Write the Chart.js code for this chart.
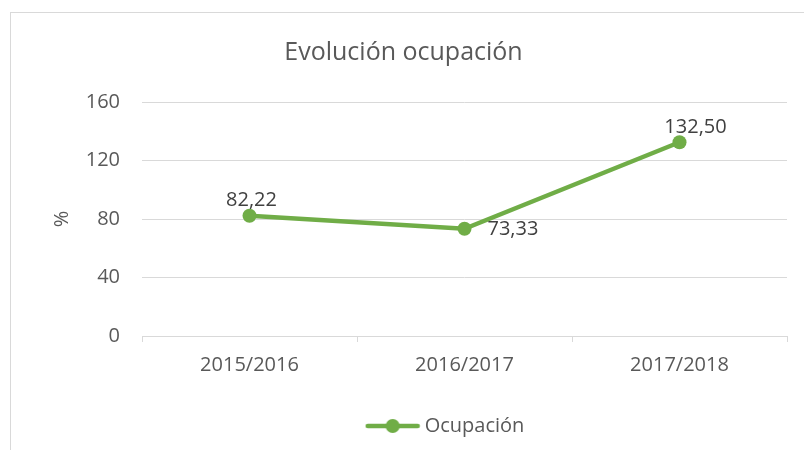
<!DOCTYPE html>
<html>
<head>
<meta charset="utf-8">
<script src="https://cdn.jsdelivr.net/npm/chart.js@4.4.1/dist/chart.umd.min.js"></script>
<style>
  html, body { margin: 0; padding: 0; background: #fff; }
  #wrap { position: relative; width: 804px; height: 450px; overflow: hidden; }
  #frame { position: absolute; left: 10px; top: 12px; width: 820px; height: 460px; border: 1px solid #d9d9d9; box-sizing: border-box; }
  canvas { position: absolute; left: 0; top: 0; }
</style>
</head>
<body>
<div id="wrap">
  <div id="frame"></div>
  <canvas id="occupancyChart" width="804" height="450"></canvas>
</div>
<script>
const years = ['2015/2016', '2016/2017', '2017/2018'];
const occupancy = [82.22, 73.33, 132.50];
const yTicks = [0, 40, 80, 120, 160];
const labelSides = ['top', 'right', 'top'];

const GREEN = '#70AD47';
const TEXT = '#595959';
const FONT = "'Open Sans', sans-serif";

// legend marker: line with a dot, like the office legend
const legendMark = document.createElement('canvas');
legendMark.width = 56;
legendMark.height = 16;
{
    const c = legendMark.getContext('2d');
    c.strokeStyle = GREEN;
    c.lineWidth = 4.5;
    c.lineCap = 'round';
    c.beginPath();
    c.moveTo(3, 8);
    c.lineTo(53, 8);
    c.stroke();
    c.fillStyle = GREEN;
    c.beginPath();
    c.arc(28, 8, 7, 0, Math.PI * 2);
    c.fill();
}

// value labels with comma decimals
const valueLabels = {
    id: 'valueLabels',
    afterLayout(chart) {
        // the office legend sits a bit right of centre
        chart.legend.left += 44;
        chart.legend.right += 44;
    },
    afterDatasetsDraw(chart) {
        const ctx = chart.ctx;
        const meta = chart.getDatasetMeta(0);
        ctx.save();
        ctx.font = "20px " + FONT;
        ctx.fillStyle = '#404040';
        ctx.textBaseline = 'middle';
        meta.data.forEach((pt, i) => {
            const text = occupancy[i].toFixed(2).replace('.', ',');
            if (labelSides[i] === 'right') {
                ctx.textAlign = 'left';
                ctx.fillText(text, pt.x + 23, pt.y + 1);
            } else {
                ctx.textAlign = 'center';
                ctx.fillText(text, pt.x + (i === 2 ? 16 : 2), pt.y - 15);
            }
        });
        ctx.restore();
    }
};

new Chart(document.getElementById('occupancyChart').getContext('2d'), {
    type: 'line',
    data: {
        labels: years,
        datasets: [{
            label: 'Ocupación',
            data: occupancy,
            borderColor: GREEN,
            backgroundColor: GREEN,
            borderWidth: 4.5,
            pointRadius: 7,
            pointHoverRadius: 7,
            pointBackgroundColor: GREEN,
            pointBorderWidth: 0,
            tension: 0,
        }],
    },
    options: {
        responsive: false,
        animation: false,
        events: [],
        layout: { padding: { left: 20, right: 17, top: 38, bottom: 4 } },
        plugins: {
            title: {
                display: true,
                text: 'Evolución ocupación',
                color: TEXT,
                font: { family: FONT, size: 25, weight: 'normal' },
                padding: { top: 0, bottom: 34 },
            },
            legend: {
                position: 'bottom',
                labels: {
                    color: TEXT,
                    font: { family: FONT, size: 20 },
                    usePointStyle: true,
                    pointStyleWidth: 44,
                    generateLabels: (chart) => [{
                        text: 'Ocupación',
                        pointStyle: legendMark,
                        fillStyle: GREEN,
                        strokeStyle: GREEN,
                        lineWidth: 0,
                        datasetIndex: 0,
                        fontColor: TEXT,
                    }],
                },
            },
            tooltip: { enabled: false },
        },
        scales: {
            x: {
                offset: true,
                afterFit: (scale) => { scale.height = 70; },
                grid: {
                    display: true,
                    offset: true,
                    drawOnChartArea: false,
                    drawTicks: true,
                    tickLength: 6,
                    color: '#d9d9d9',
                },
                border: { color: '#d9d9d9', width: 1 },
                ticks: { color: TEXT, font: { family: FONT, size: 20 }, padding: 11 },
            },
            y: {
                min: 0,
                max: 160,
                afterBuildTicks: (scale) => { scale.ticks = yTicks.map(v => ({ value: v })); },
                afterFit: (scale) => { scale.width = 122; },
                grid: { color: '#d9d9d9', drawTicks: false },
                border: { display: false },
                ticks: { color: TEXT, font: { family: FONT, size: 20 }, padding: 22 },
                title: {
                    display: true,
                    text: '%',
                    color: TEXT,
                    font: { family: FONT, size: 20 },
                    padding: { top: 30, bottom: 0 },
                },
            },
        },
    },
    plugins: [valueLabels],
});
</script>
</body>
</html>
